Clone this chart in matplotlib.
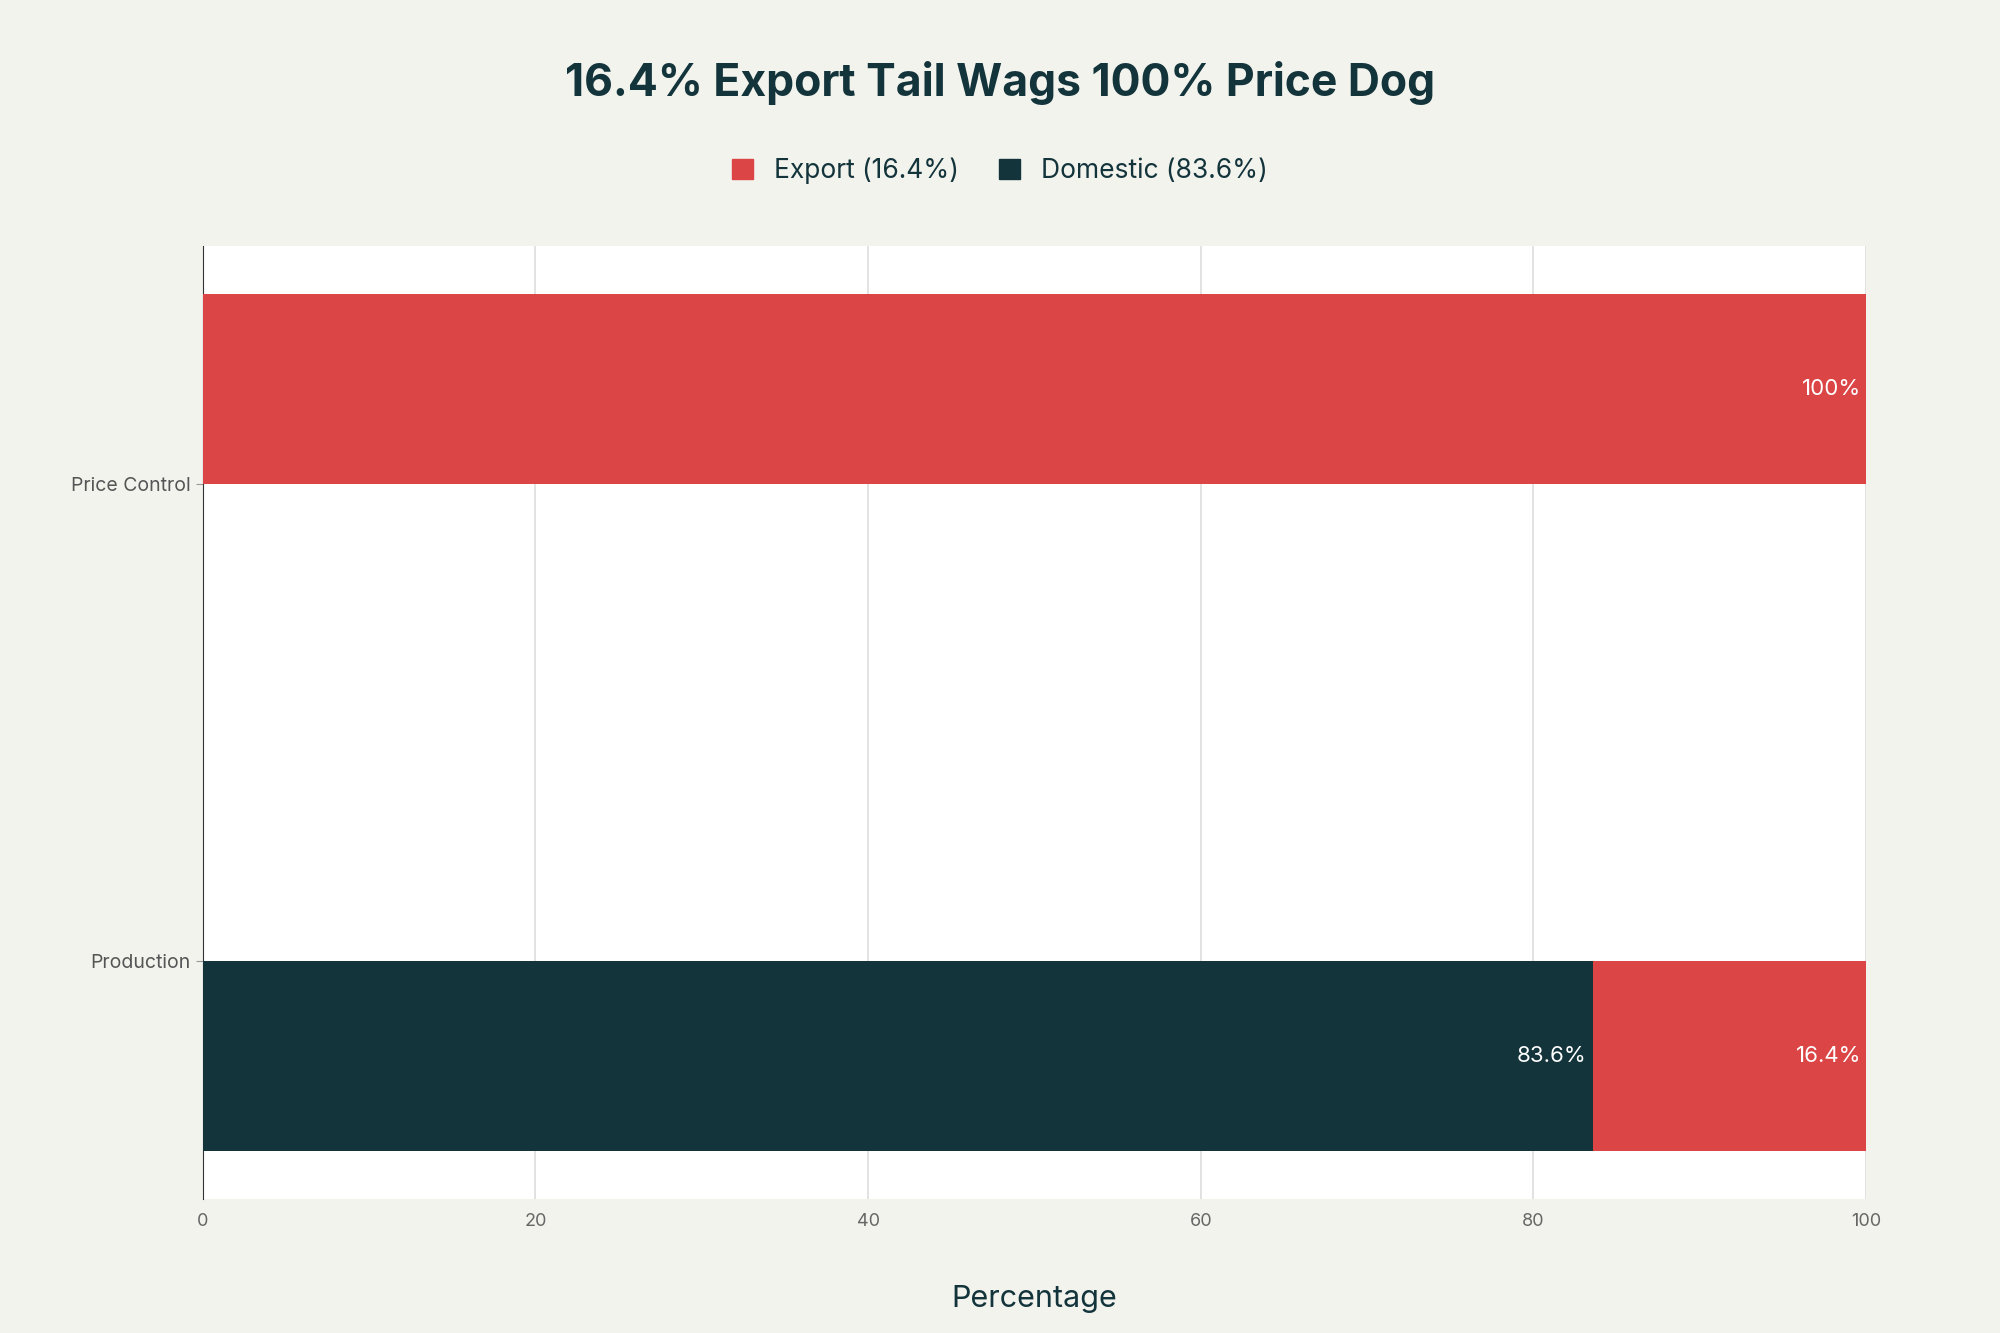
import matplotlib
matplotlib.use("Agg")
import matplotlib.pyplot as plt
from matplotlib.patches import Patch

categories = ["Production", "Price Control"]
domestic = [83.6, 0]
export = [16.4, 100]
offsets = [-0.2, 0.2]

RED = "#DB4545"
DARK = "#13343B"
BG = "#F3F3EE"

plt.rcParams['font.family'] = ['Inter', 'DejaVu Sans']
fig = plt.figure(figsize=(20, 13.33), dpi=100, facecolor=BG)
ax = fig.add_axes([0.1014, 0.1005, 0.8316, 0.7148])
ax.set_facecolor("white")

for i, c in enumerate(categories):
    y = i + offsets[i]
    if domestic[i] > 0:
        ax.barh(y, domestic[i], height=0.4, color=DARK, zorder=3)
        ax.text(domestic[i] - 0.4, y, f"{domestic[i]}%", ha="right", va="center",
                color="white", fontsize=16, zorder=4)
    if export[i] > 0:
        ax.barh(y, export[i], left=domestic[i], height=0.4, color=RED, zorder=3)
        lbl = f"{export[i]:g}%"
        ax.text(domestic[i] + export[i] - 0.3, y, lbl, ha="right", va="center",
                color="white", fontsize=16, zorder=4)

ax.set_xlim(0, 100)
ax.set_ylim(-0.5, 1.5)
ax.set_yticks(range(len(categories)))
ax.set_yticklabels(categories, fontsize=14, color="#555555")
ax.set_xticks([0, 20, 40, 60, 80, 100])
ax.tick_params(axis="x", colors="#666666", labelsize=13, length=0, pad=10)
ax.tick_params(axis="y", length=5, color="#999999", pad=4)
ax.grid(axis="x", color="#DDDDDD", linewidth=1.2, zorder=0)
for s in ["top", "right", "bottom"]:
    ax.spines[s].set_visible(False)
ax.spines["left"].set_color("#333333")
ax.set_xlabel("Percentage", fontsize=22, color=DARK, labelpad=40)

fig.text(0.5, 0.938, "16.4% Export Tail Wags 100% Price Dog", ha="center", va="center",
         fontsize=32, fontweight="bold", color=DARK)
handles = [Patch(color=RED, label="Export (16.4%)"), Patch(color=DARK, label="Domestic (83.6%)")]
fig.legend(handles=handles, loc="center", bbox_to_anchor=(0.5, 0.872), ncol=2, frameon=False,
           fontsize=19, labelcolor=DARK, handlelength=0.8, handleheight=0.8, columnspacing=1.5)

fig.savefig("out.png", dpi=100, facecolor=BG)
